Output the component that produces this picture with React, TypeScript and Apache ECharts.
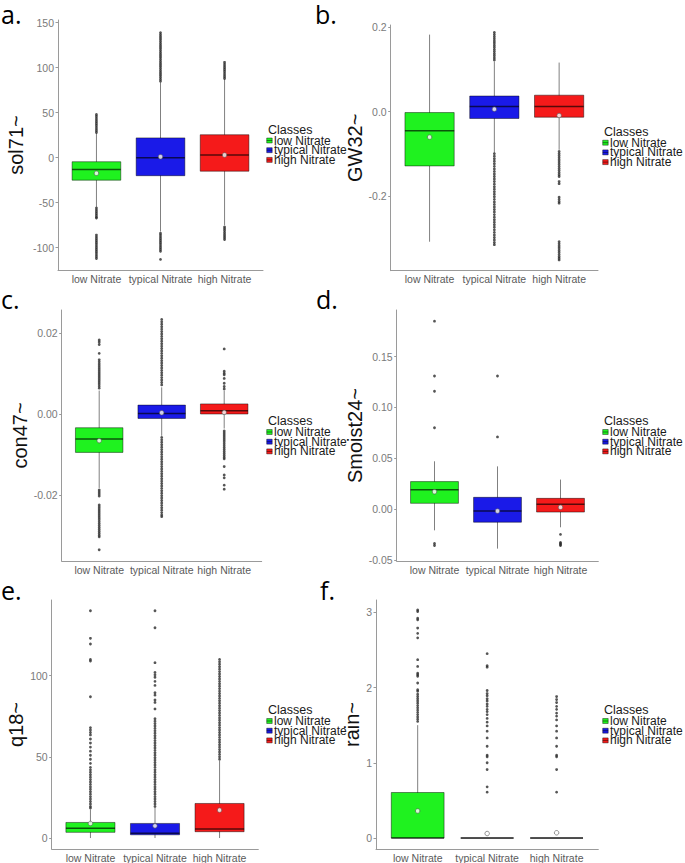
import React, { useEffect, useRef } from 'react';
import * as echarts from 'echarts';

// ---------- data ----------
const categories = ['low Nitrate', 'typical Nitrate', 'high Nitrate'];
const classColors = ['#1FF21F', '#1A1AE8', '#F51A1A'];
const panelLetters = ['a.', 'b.', 'c.', 'd.', 'e.', 'f.'];
const yTitles = ['sol71~', 'GW32~', 'con47~', 'Smoist24~', 'q18~', 'rain~'];

// each box: [lower whisker, Q1, median, Q3, upper whisker]
const sol71Boxes = [[-55, -25, -13, -4.5, 27], [-82, -20, 0, 22, 84], [-75, -15, 3, 25.5, 87]];
const sol71Means = [-17.3, 1, 3];
const sol71Outliers = [
  [28, 30, 32, 34, 36, 38, 40, 42, 44, 46, 48, -56, -58, -60, -62, -64, -66, -67, -86, -88, -90, -92, -94, -96, -98, -100, -102, -104, -106, -108, -110, -112],
  [85, 87, 89, 91, 93, 95, 97, 99, 101, 103, 105, 107, 109, 111, 113, 115, 117, 119, 121, 123, 125, 127, 129, 131, 133, 135, 137, 139, -84, -86, -88, -90, -92, -94, -96, -98, -100, -102, -104, -113],
  [88, 90, 92, 94, 96, 98, 100, 102, 104, 106, -77, -79, -81, -83, -85, -87, -89, -91],
];
const sol71Ticks = [-100, -50, 0, 50, 100, 150];

const gw32Boxes = [[-0.307, -0.128, -0.045, -0.002, 0.182], [-0.097, -0.016, 0.012, 0.037, 0.118], [-0.09, -0.013, 0.012, 0.039, 0.116]];
const gw32Means = [-0.06, 0.006, -0.009];
const gw32Outliers = [
  [],
  [0.122, 0.127, 0.132, 0.137, 0.142, 0.147, 0.152, 0.157, 0.162, 0.167, 0.172, 0.177, 0.182, 0.187,
    -0.099, -0.105, -0.111, -0.117, -0.123, -0.129, -0.135, -0.141, -0.147, -0.153, -0.159, -0.165, -0.171, -0.177, -0.183, -0.189, -0.195, -0.201, -0.207, -0.213, -0.219, -0.225, -0.231, -0.237, -0.243, -0.249, -0.255, -0.261, -0.267, -0.273, -0.279, -0.285, -0.291, -0.297, -0.303, -0.309, -0.314],
  [-0.094, -0.099, -0.104, -0.109, -0.114, -0.119, -0.124, -0.129, -0.134, -0.139, -0.144, -0.149, -0.153, -0.165, -0.17, -0.202, -0.207, -0.212, -0.216, -0.307, -0.312, -0.317, -0.322, -0.327, -0.332, -0.337, -0.342, -0.346, -0.35],
];
const gw32Ticks = [-0.2, 0, 0.2];

const con47Boxes = [[-0.0183, -0.0095, -0.0062, -0.0034, 0.0058], [-0.0054, -0.0011, 0.0001, 0.0022, 0.0066], [-0.0036, 0.0, 0.0008, 0.0025, 0.0058]];
const con47Means = [-0.0066, 0.0003, 0.0004];
const con47Outliers = [
  [0.0183, 0.0178, 0.0172, 0.015, 0.0134, 0.0129, 0.0124, 0.0119, 0.0114, 0.0109, 0.0104, 0.0099, 0.0094, 0.0089, 0.0084, 0.0079, 0.0074, 0.0069, 0.0064,
    -0.0188, -0.0193, -0.0198, -0.0203, -0.0225, -0.023, -0.0235, -0.024, -0.0245, -0.025, -0.0255, -0.026, -0.0265, -0.027, -0.0275, -0.028, -0.0285, -0.029, -0.0295, -0.03, -0.0304, -0.0336],
  [0.0072, 0.0078, 0.0084, 0.009, 0.0096, 0.0102, 0.0108, 0.0114, 0.012, 0.0126, 0.0132, 0.0138, 0.0144, 0.015, 0.0156, 0.0162, 0.0168, 0.0174, 0.018, 0.0186, 0.0192, 0.0198, 0.0204, 0.021, 0.0216, 0.0222, 0.0228, 0.0234,
    -0.0058, -0.0064, -0.007, -0.0076, -0.0082, -0.0088, -0.0094, -0.01, -0.0106, -0.0112, -0.0118, -0.0124, -0.013, -0.0136, -0.0142, -0.0148, -0.0154, -0.016, -0.0166, -0.0172, -0.0178, -0.0184, -0.019, -0.0196, -0.0202, -0.0208, -0.0214, -0.022, -0.0226, -0.0232, -0.0238, -0.0244, -0.025, -0.0254],
  [0.0161, 0.0106, 0.0101, 0.0097, 0.0088, 0.0076, 0.0068, 0.0062,
    -0.0042, -0.0047, -0.0052, -0.0057, -0.0062, -0.0067, -0.0072, -0.0077, -0.0082, -0.0087, -0.0092, -0.0097, -0.0102, -0.0107, -0.0111, -0.013, -0.0151, -0.0158, -0.0176, -0.0186],
];
const con47Ticks = [-0.02, 0, 0.02];

const smoistBoxes = [[-0.021, 0.0056, 0.019, 0.027, 0.047], [-0.039, -0.013, -0.002, 0.0115, 0.042], [-0.018, -0.003, 0.0047, 0.0105, 0.029]];
const smoistMeans = [0.017, -0.002, 0.0017];
const smoistOutliers = [
  [0.185, 0.131, 0.116, 0.08, -0.034, -0.036],
  [0.131, 0.071],
  [-0.025, -0.033, -0.034, -0.035, -0.036],
];
const smoistTicks = [-0.05, 0, 0.05, 0.1, 0.15];

const q18Boxes = [[0, 3.5, 6.1, 9.6, 17.5], [0, 2.0, 3.0, 9.0, 19], [0, 3.9, 5.5, 21.3, 47.5]];
const q18Means = [9.0, 7.5, 17.2];
const q18Outliers = [
  [140, 123, 119.5, 110, 109, 87, 68, 66.5, 65, 63.5, 61, 58.5, 56, 53.5, 51, 48.5, 46, 43.5, 42, 40.5, 39, 37.5, 36, 34.5, 33, 31.5, 30, 28.5, 27, 25.5, 24, 22.5, 21, 19.5, 18.5],
  [140, 129.5, 108, 102, 100.5, 99, 96.5, 94, 89.5, 88, 85, 83.5, 79.5, 73.5, 72, 70.5, 69, 67.5, 66, 64.5, 63, 61.5, 60, 58.5, 57, 55.5, 54, 52.5, 51, 49.5, 48, 46.5, 45, 43.5, 42, 40.5, 39, 37.5, 36, 34.5, 33, 31.5, 30, 28.5, 27, 25.5, 24, 22.5, 21, 19.5],
  [48.5, 50, 51.5, 53, 54.5, 56, 57.5, 59, 60.5, 62, 63.5, 65, 66.5, 68, 69.5, 71, 72.5, 74, 75.5, 77, 78.5, 80, 81.5, 83, 84.5, 86, 87.5, 89, 90.5, 92, 93.5, 95, 96.5, 98, 99.5, 101, 102.5, 104, 105.5, 107, 108.5, 110],
];
const q18Ticks = [0, 50, 100];

const rainBoxes = [[0, 0, 0, 0.605, 1.5], [0, 0, 0, 0, 0], [0, 0, 0, 0, 0]];
const rainMeans = [0.36, 0.06, 0.07];
const rainOutliers = [
  [3.03, 3.01, 2.92, 2.9, 2.79, 2.72, 2.66, 2.37, 2.28, 2.19, 2.17, 2.15, 2.06, 1.97, 1.95, 1.91, 1.88, 1.85, 1.82, 1.79, 1.76, 1.73, 1.7, 1.67, 1.64, 1.61, 1.58, 1.55],
  [2.45, 2.29, 2.27, 1.96, 1.92, 1.89, 1.85, 1.82, 1.78, 1.75, 1.71, 1.68, 1.64, 1.59, 1.54, 1.49, 1.42, 1.33, 1.22, 1.1, 1.08, 1.0, 0.91, 0.68, 0.61],
  [1.88, 1.84, 1.8, 1.75, 1.71, 1.66, 1.62, 1.57, 1.49, 1.42, 1.33, 1.22, 1.1, 1.08, 0.91, 0.61],
];
const rainTicks = [0, 1, 2, 3];

// ---------- layout ----------
const BOX_WIDTH = 0.76;
const panels = [
  { boxes: sol71Boxes, means: sol71Means, outliers: sol71Outliers, ticks: sol71Ticks, decimals: 0,
    left: 58, top: 20, width: 205, height: 250, yMin: -124.8, yMax: 153, nameGap: 32, legendX: 268, legendY: 129.5, letterX: 1, letterY: 21.7 },
  { boxes: gw32Boxes, means: gw32Means, outliers: gw32Outliers, ticks: gw32Ticks, decimals: 1,
    left: 390.7, top: 25, width: 207.3, height: 245.7, yMin: -0.3754, yMax: 0.2047, nameGap: 14, legendX: 604, legendY: 131.7, letterX: 315, letterY: 21.7 },
  { boxes: con47Boxes, means: con47Means, outliers: con47Outliers, ticks: con47Ticks, decimals: 2,
    left: 61.7, top: 310, width: 200, height: 251, yMin: -0.03637, yMax: 0.02573, nameGap: 30.7, legendX: 268, legendY: 421, letterX: 1, letterY: 307 },
  { boxes: smoistBoxes, means: smoistMeans, outliers: smoistOutliers, ticks: smoistTicks, decimals: 2,
    left: 396.7, top: 310, width: 201.6, height: 251, yMin: -0.0512, yMax: 0.196, nameGap: 26.7, legendX: 604, legendY: 421, letterX: 316, letterY: 307 },
  { boxes: q18Boxes, means: q18Means, outliers: q18Outliers, ticks: q18Ticks, decimals: 0,
    left: 51.7, top: 600, width: 206.6, height: 250, yMin: -6.75, yMax: 146.6, nameGap: 24.7, legendX: 268, legendY: 710, letterX: 1, letterY: 598 },
  { boxes: rainBoxes, means: rainMeans, outliers: rainOutliers, ticks: rainTicks, decimals: 0,
    left: 376, top: 600, width: 222.3, height: 250, yMin: -0.1456, yMax: 3.163, nameGap: 9, legendX: 604, legendY: 710, letterX: 320, letterY: 598 },
];

const AXIS_COLOR = '#9a9a9a';
const FONT = '"Liberation Sans", Arial, sans-serif';

function renderBox(_params: any, api: any) {
  const x = api.value(0);
  const lo = api.coord([x, api.value(1)]);
  const q1 = api.coord([x, api.value(2)]);
  const med = api.coord([x, api.value(3)]);
  const q3 = api.coord([x, api.value(4)]);
  const hi = api.coord([x, api.value(5)]);
  const w = api.size([BOX_WIDTH, 0])[0];
  const ci = api.value(6);
  return {
    type: 'group',
    children: [
      { type: 'line', shape: { x1: lo[0], y1: lo[1], x2: hi[0], y2: hi[1] }, style: { stroke: '#808080', lineWidth: 1 } },
      { type: 'rect', shape: { x: q3[0] - w / 2, y: q3[1], width: w, height: Math.max(q1[1] - q3[1], 0) },
        style: { fill: classColors[ci], stroke: 'rgba(0,0,0,0.45)', lineWidth: 1 } },
      { type: 'line', shape: { x1: med[0] - w / 2, y1: med[1], x2: med[0] + w / 2, y2: med[1] },
        style: { stroke: 'rgba(0,0,0,0.65)', lineWidth: 1.5 } },
    ],
  };
}

function buildOption() {
  const grid = panels.map((p) => ({ left: p.left, top: p.top, width: p.width, height: p.height }));
  const xAxis = panels.map((p, i) => ({
    gridIndex: i, type: 'value', min: 0.4, max: 3.6,
    splitLine: { show: false },
    axisLine: { show: true, onZero: false, lineStyle: { color: AXIS_COLOR, width: 1 } },
    axisTick: { show: false },
    axisLabel: {
      customValues: [1, 2, 3],
      formatter: (v: number) => categories[Math.round(v) - 1] ?? '',
      color: '#5a5a5a', fontSize: 10.5, fontFamily: FONT, margin: 3,
    },
  }));
  const yAxis = panels.map((p, i) => ({
    gridIndex: i, type: 'value', min: p.yMin, max: p.yMax,
    splitLine: { show: false },
    axisLine: { show: true, onZero: false, lineStyle: { color: AXIS_COLOR, width: 1 } },
    axisTick: { show: true, length: 2.5, customValues: p.ticks, lineStyle: { color: AXIS_COLOR } },
    axisLabel: {
      customValues: p.ticks,
      formatter: (v: number) => v.toFixed(p.decimals),
      color: '#7a7a7a', fontSize: 10.5, fontFamily: FONT, margin: 4,
    },
    name: yTitles[i], nameLocation: 'middle', nameGap: p.nameGap,
    nameTextStyle: { fontSize: 20, color: '#111', fontFamily: FONT },
  }));
  const series: any[] = [];
  panels.forEach((p, i) => {
    series.push({
      type: 'custom', xAxisIndex: i, yAxisIndex: i, renderItem: renderBox, z: 2, silent: true,
      data: p.boxes.map((b, k) => [k + 1, ...b, k]),
      encode: { x: 0, y: [1, 2, 3, 4, 5] },
    });
    series.push({
      type: 'scatter', xAxisIndex: i, yAxisIndex: i, z: 3, silent: true,
      symbolSize: 2.8, itemStyle: { color: '#2b2b2b' },
      data: p.outliers.flatMap((arr, k) => arr.map((v) => [k + 1, v])),
    });
    series.push({
      type: 'scatter', xAxisIndex: i, yAxisIndex: i, z: 4, silent: true,
      symbolSize: 4.5, itemStyle: { color: '#ffffff', borderColor: '#555', borderWidth: 0.8 },
      data: p.means.map((m, k) => [k + 1, m]),
    });
  });

  const graphic: any[] = [];
  panels.forEach((p, i) => {
    graphic.push({
      type: 'text', x: p.letterX, y: p.letterY - 8,
      style: { text: panelLetters[i], font: '25px "Open Sans", sans-serif', fill: '#000', verticalAlign: 'middle' },
    });
    graphic.push({
      type: 'text', x: p.legendX, y: p.legendY,
      style: { text: 'Classes', font: `12.5px ${FONT}`, fill: '#1a1a1a', verticalAlign: 'middle' },
    });
    categories.forEach((c, k) => {
      const cy = p.legendY + 11 + k * 9.7;
      graphic.push({
        type: 'rect', shape: { x: p.legendX - 1.3, y: cy - 2.5, width: 5.5, height: 5 },
        style: { fill: classColors[k], stroke: 'rgba(0,0,0,0.5)', lineWidth: 0.8 },
      });
      graphic.push({
        type: 'line', shape: { x1: p.legendX - 1.3, y1: cy, x2: p.legendX + 4.2, y2: cy },
        style: { stroke: 'rgba(0,0,0,0.6)', lineWidth: 0.8 },
      });
      graphic.push({
        type: 'text', x: p.legendX + 6, y: cy,
        style: { text: c, font: `12px ${FONT}`, fill: '#1a1a1a', verticalAlign: 'middle' },
      });
    });
  });

  return { animation: false, backgroundColor: '#ffffff', grid, xAxis, yAxis, series, graphic };
}

export default function App() {
  const ref = useRef<HTMLDivElement>(null);
  useEffect(() => {
    if (!ref.current) return;
    const chart = echarts.init(ref.current, null, { renderer: 'svg' });
    chart.setOption(buildOption() as any);
    return () => chart.dispose();
  }, []);
  return (
    <div
      ref={ref}
      style={{ position: 'absolute', left: 0, top: 0, width: 685, height: 863, background: '#fff' }}
    />
  );
}
